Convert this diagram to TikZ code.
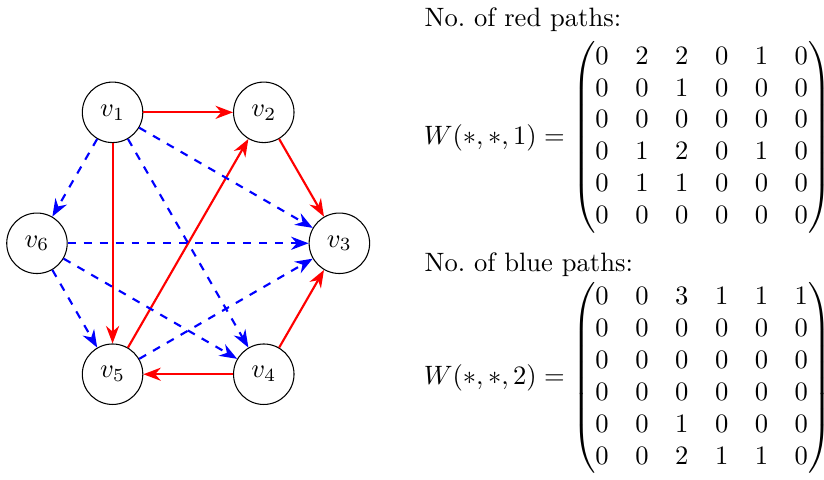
\documentclass[tikz,border=0pt]{standalone}
\usepackage{amsmath}
\usetikzlibrary{arrows.meta}
\begin{document}
\begin{tikzpicture}[
  vtx/.style={circle, draw, minimum size=0.8cm, inner sep=0pt},
  redarr/.style={thick, red, -{Stealth}},
  bluearr/.style={thick, blue, dashed, -{Stealth}},
  lbl/.style={inner sep=0pt, anchor=base west},
  mat/.style={inner sep=0pt, anchor=west}
]
\useasboundingbox (-2.489,-3.118) rectangle (8.410,3.218);
\node[vtx] (v1) at (120:2) {$v_1$};
\node[vtx] (v2) at (60:2) {$v_2$};
\node[vtx] (v3) at (0:2) {$v_3$};
\node[vtx] (v4) at (-60:2) {$v_4$};
\node[vtx] (v5) at (-120:2) {$v_5$};
\node[vtx] (v6) at (180:2) {$v_6$};

\draw[redarr] (v1) -- (v2);
\draw[redarr] (v1) -- (v5);
\draw[redarr] (v2) -- (v3);
\draw[redarr] (v4) -- (v3);
\draw[redarr] (v4) -- (v5);
\draw[redarr] (v5) -- (v2);

\draw[bluearr] (v1) -- (v6);
\draw[bluearr] (v1) -- (v3);
\draw[bluearr] (v1) -- (v4);
\draw[bluearr] (v6) -- (v3);
\draw[bluearr] (v6) -- (v5);
\draw[bluearr] (v6) -- (v4);
\draw[bluearr] (v5) -- (v3);

\node[lbl] (t1) at (3.12,2.865) {No.\ of red paths:};
\node[mat] (m1) at (3.11,1.399) {$W(*,*,1)=\begin{pmatrix}
0&2&2&0&1&0\\
0&0&1&0&0&0\\
0&0&0&0&0&0\\
0&1&2&0&1&0\\
0&1&1&0&0&0\\
0&0&0&0&0&0
\end{pmatrix}$};
\node[lbl] (t2) at (3.12,-0.376) {No.\ of blue paths:};
\node[mat] (m2) at (3.11,-1.782) {$W(*,*,2)=\begin{pmatrix}
0&0&3&1&1&1\\
0&0&0&0&0&0\\
0&0&0&0&0&0\\
0&0&0&0&0&0\\
0&0&1&0&0&0\\
0&0&2&1&1&0
\end{pmatrix}$};
\end{tikzpicture}
\end{document}
